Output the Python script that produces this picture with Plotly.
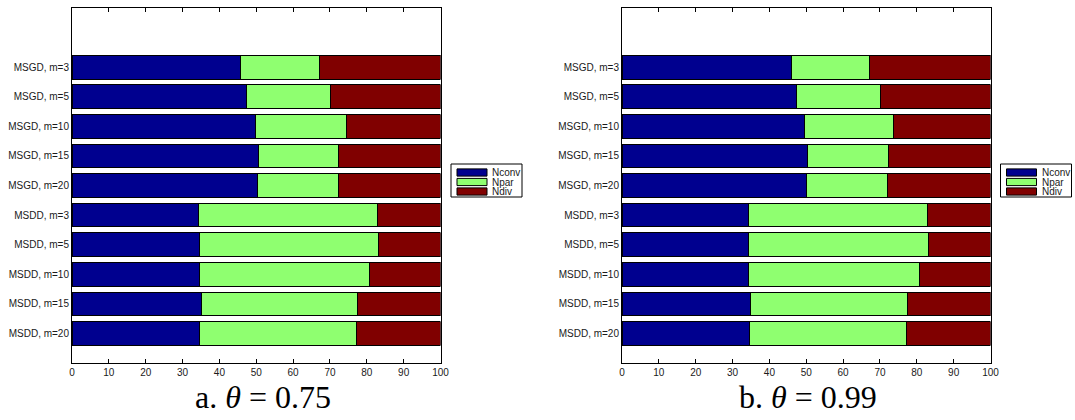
import plotly.graph_objects as go

# Run configurations, listed top to bottom
categories = ["MSGD, m=3", "MSGD, m=5", "MSGD, m=10", "MSGD, m=15", "MSGD, m=20",
              "MSDD, m=3", "MSDD, m=5", "MSDD, m=10", "MSDD, m=15", "MSDD, m=20"]

# Percentages of runs per outcome, theta = 0.75
nconv_a = [45.8, 47.4, 49.9, 50.5, 50.3, 34.4, 34.5, 34.5, 35.1, 34.6]
npar_a = [21.3, 22.8, 24.6, 21.9, 22.0, 48.6, 48.7, 46.2, 42.3, 42.7]
ndiv_a = [32.9, 29.8, 25.5, 27.6, 27.7, 17.0, 16.8, 19.3, 22.6, 22.7]

# Percentages of runs per outcome, theta = 0.99
nconv_b = [46.0, 47.3, 49.6, 50.4, 50.1, 34.3, 34.3, 34.4, 35.0, 34.6]
npar_b = [21.1, 22.8, 24.1, 22.0, 21.9, 48.6, 48.8, 46.3, 42.4, 42.6]
ndiv_b = [32.9, 29.9, 26.3, 27.6, 28.0, 17.1, 16.9, 19.3, 22.6, 22.8]

series_names = ["Nconv", "Npar", "Ndiv"]
colors = ["#00008F", "#8FFF70", "#800000"]
x_ticks = [0, 10, 20, 30, 40, 50, 60, 70, 80, 90, 100]
captions = ["a. <i>θ</i> = 0.75", "b. <i>θ</i> = 0.99"]

W, H = 1075, 420
n = len(categories)
ypos = [n - i for i in range(n)]  # first category on top

fig = go.Figure()

panels = [
    ("x", "y", [nconv_a, npar_a, ndiv_a]),
    ("x2", "y2", [nconv_b, npar_b, ndiv_b]),
]
for xa, ya, vals in panels:
    for name, col, v in zip(series_names, colors, vals):
        fig.add_trace(go.Bar(
            x=v, y=ypos, orientation="h", name=name, width=0.8,
            marker=dict(color=col, line=dict(color="#000000", width=1)),
            xaxis=xa, yaxis=ya, showlegend=False,
        ))

font = dict(family="Liberation Sans, Arial, sans-serif", size=10, color="#1a1a1a")

def xaxis_cfg(domain, anchor):
    return dict(domain=domain, range=[0, 100], tickvals=x_ticks, ticks="inside",
                ticklen=4, tickcolor="#000000", showline=True, linecolor="#000000",
                linewidth=1, mirror="allticks", showgrid=False, zeroline=False,
                tickfont=font, fixedrange=True, automargin=False, anchor=anchor)

def yaxis_cfg(domain, anchor):
    return dict(domain=domain, range=[0, 12], tickvals=ypos, ticktext=categories,
                ticks="", showline=True, linecolor="#000000", linewidth=1,
                mirror=True, showgrid=False, zeroline=False, tickfont=font,
                anchor=anchor, fixedrange=True, automargin=False)

def px_x(p):
    return p / W

def px_y(p):
    return 1 - p / H

y_dom = [px_y(363), px_y(8)]
dom_a = [px_x(72), px_x(440.5)]
dom_b = [px_x(622), px_x(990.5)]

fig.update_layout(
    width=W, height=H,
    margin=dict(l=0, r=0, t=0, b=0),
    paper_bgcolor="#FFFFFF", plot_bgcolor="#FFFFFF",
    barmode="stack",
    showlegend=False,
    xaxis=xaxis_cfg(dom_a, "y"),
    yaxis=yaxis_cfg(y_dom, "x"),
    xaxis2=xaxis_cfg(dom_b, "y2"),
    yaxis2=yaxis_cfg(y_dom, "x2"),
)

# Legend boxes drawn beside each panel
shapes = []
annotations = []
for box_left in (451, 1000.5):
    shapes.append(dict(type="rect", xref="paper", yref="paper",
                       x0=px_x(box_left), x1=px_x(box_left + 71),
                       y0=px_y(197), y1=px_y(164),
                       line=dict(color="#000000", width=1), fillcolor="#FFFFFF"))
    for k, (name, col) in enumerate(zip(series_names, colors)):
        cy = 172.5 + 9.5 * k
        shapes.append(dict(type="rect", xref="paper", yref="paper",
                           x0=px_x(box_left + 6), x1=px_x(box_left + 36),
                           y0=px_y(cy + 3.6), y1=px_y(cy - 3.6),
                           line=dict(color="#000000", width=1), fillcolor=col))
        annotations.append(dict(text=name, xref="paper", yref="paper",
                                x=px_x(box_left + 39), y=px_y(cy),
                                xanchor="left", yanchor="middle", showarrow=False,
                                font=dict(family="Liberation Sans, Arial, sans-serif",
                                          size=10, color="#1a1a1a")))

# Panel captions
for cap, cx in zip(captions, (263, 808)):
    annotations.append(dict(text=cap, xref="paper", yref="paper",
                            x=px_x(cx), y=px_y(397), xanchor="center", yanchor="middle",
                            showarrow=False,
                            font=dict(family="Liberation Serif, Times New Roman, serif",
                                      size=32, color="#000000")))

fig.update_layout(shapes=shapes, annotations=annotations)

fig.write_html("out.html")
